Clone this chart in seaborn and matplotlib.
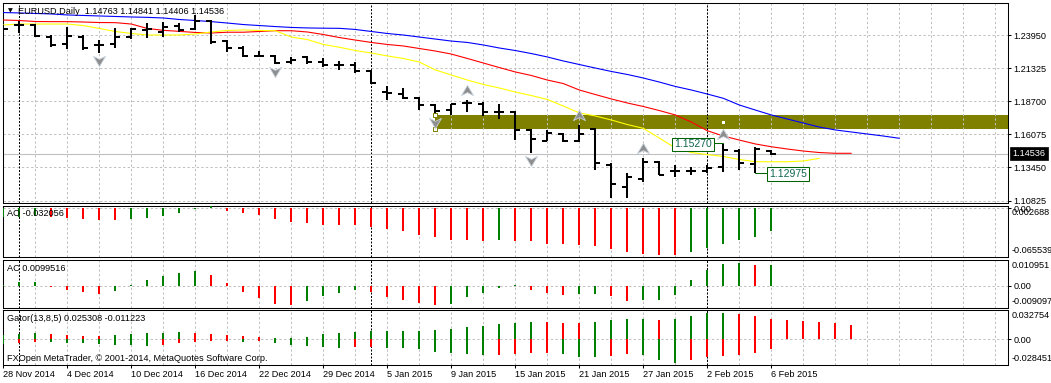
import matplotlib
matplotlib.use("Agg")
import matplotlib.pyplot as plt
import matplotlib.transforms as mtrans
from matplotlib.path import Path
from matplotlib.patches import Rectangle
import numpy as np
import pandas as pd
import seaborn as sns

# ---------------- data ----------------
symbol_title = "EURUSD,Daily"
date_labels = ['28 Nov 2014', '4 Dec 2014', '10 Dec 2014', '16 Dec 2014', '22 Dec 2014',
               '29 Dec 2014', '5 Jan 2015', '9 Jan 2015', '15 Jan 2015', '21 Jan 2015',
               '27 Jan 2015', '2 Feb 2015', '6 Feb 2015']
date_label_bars = [0, 4, 8, 12, 16, 20, 24, 28, 32, 36, 40, 44, 48]
month_start_bars = [1, 23, 44]

opens = [1.2458, 1.2474, 1.2474, 1.2379, 1.2324, 1.2379, 1.2316, 1.2324, 1.2379, 1.2435,
         1.2419, 1.2466, 1.2443, 1.2506, 1.2348, 1.2292, 1.2232, 1.2229, 1.2181, 1.2221,
         1.2181, 1.2157, 1.2161, 1.2106, 1.1943, 1.1927, 1.1895, 1.1840, 1.1800, 1.1852,
         1.1844, 1.1784, 1.1784, 1.1642, 1.1558, 1.1610, 1.1554, 1.1650, 1.1364, 1.1192,
         1.1251, 1.1390, 1.1317, 1.1317, 1.1317, 1.1346, 1.1478, 1.1372, 1.14763]
highs = [1.2474, 1.2506, 1.2482, 1.2395, 1.2458, 1.2395, 1.2355, 1.2451, 1.2451, 1.2490,
         1.2498, 1.2490, 1.2554, 1.2514, 1.2355, 1.2308, 1.2272, 1.2236, 1.2221, 1.2229,
         1.2213, 1.2185, 1.2177, 1.2118, 1.1987, 1.1975, 1.1903, 1.1848, 1.1848, 1.1876,
         1.1860, 1.1848, 1.1796, 1.1650, 1.1642, 1.1618, 1.1681, 1.1658, 1.1380, 1.1298,
         1.1422, 1.1396, 1.1364, 1.1351, 1.1364, 1.15270, 1.1489, 1.1505, 1.14841]
lows = [1.2419, 1.2411, 1.2379, 1.2300, 1.2284, 1.2276, 1.2252, 1.2292, 1.2363, 1.2371,
        1.2379, 1.2419, 1.2435, 1.2324, 1.2260, 1.2221, 1.2217, 1.2165, 1.2169, 1.2169,
        1.2141, 1.2121, 1.2090, 1.2003, 1.1880, 1.1888, 1.1800, 1.1761, 1.1761, 1.1788,
        1.1749, 1.1725, 1.1562, 1.1463, 1.1551, 1.1543, 1.1543, 1.1325, 1.1106, 1.1100,
        1.1232, 1.1285, 1.1267, 1.1285, 1.1298, 1.1311, 1.1325, 1.12975, 1.14406]
closes = [1.2443, 1.2474, 1.2387, 1.2316, 1.2387, 1.2292, 1.2316, 1.2379, 1.2443, 1.2443,
          1.2458, 1.2435, 1.2506, 1.2340, 1.2292, 1.2229, 1.2225, 1.2173, 1.2197, 1.2181,
          1.2157, 1.2157, 1.2106, 1.2014, 1.1935, 1.1899, 1.1840, 1.1796, 1.1844, 1.1852,
          1.1784, 1.1784, 1.1638, 1.1570, 1.1614, 1.1554, 1.1610, 1.1380, 1.1214, 1.1267,
          1.1390, 1.1285, 1.1317, 1.1317, 1.1343, 1.1483, 1.1378, 1.1489, 1.14536]

# Alligator lines (shifted into the future)
jaw_blue = [1.2573, 1.2570, 1.2566, 1.2562, 1.2554, 1.2550, 1.2546, 1.2542, 1.2538, 1.2535,
            1.2530, 1.2518, 1.2510, 1.2501, 1.2490, 1.2478, 1.2470, 1.2462, 1.2455, 1.2451,
            1.2449, 1.2448, 1.2439, 1.2423, 1.2407, 1.2395, 1.2379, 1.2363, 1.2347, 1.2336,
            1.2316, 1.2292, 1.2272, 1.2248, 1.2221, 1.2189, 1.2161, 1.2133, 1.2106, 1.2082,
            1.2054, 1.2022, 1.1987, 1.1959, 1.1927, 1.1893, 1.1840, 1.1800, 1.1761, 1.1729,
            1.1697, 1.1665, 1.1642, 1.1626, 1.1610, 1.1594, 1.1576]
teeth_red = [1.2514, 1.2510, 1.2502, 1.2501, 1.2501, 1.2498, 1.2494, 1.2493, 1.2482, 1.2447,
             1.2432, 1.2424, 1.2415, 1.2411, 1.2417, 1.2417, 1.2423, 1.2429, 1.2429, 1.2419,
             1.2399, 1.2375, 1.2355, 1.2336, 1.2320, 1.2308, 1.2288, 1.2268, 1.2244, 1.2209,
             1.2173, 1.2137, 1.2102, 1.2074, 1.2038, 1.2010, 1.1959, 1.1923, 1.1888, 1.1856,
             1.1828, 1.1796, 1.1761, 1.1705, 1.1636, 1.1594, 1.1562, 1.1531, 1.1509, 1.1491,
             1.1475, 1.1463, 1.1457, 1.1457]
lips_yellow = [1.2474, 1.2482, 1.2482, 1.2482, 1.2482, 1.2470, 1.2447, 1.2423, 1.2407, 1.2395,
               1.2395, 1.2395, 1.2403, 1.2419, 1.2431, 1.2435, 1.2431, 1.2429, 1.2379, 1.2359,
               1.2320, 1.2298, 1.2272, 1.2252, 1.2229, 1.2209, 1.2181, 1.2118, 1.2078, 1.2038,
               1.2003, 1.1975, 1.1943, 1.1915, 1.1884, 1.1832, 1.1777, 1.1753, 1.1721, 1.1685,
               1.1655, 1.1578, 1.1499, 1.1463, 1.1447, 1.1432, 1.1408, 1.1390, 1.1390, 1.1390,
               1.1396, 1.1417]

up_fractal_bars = [29, 36, 40, 45]
down_fractal_bars = [6, 17, 27, 33]

zone_start_bar = 27
zone_top = 1.1761
zone_bottom = 1.1646
zone_handle_bar = 45

high_label_bar, high_label_price = 45, 1.15270
low_label_bar, low_label_price = 47, 1.12975

price_ticks = [1.23950, 1.21325, 1.18700, 1.16075, 1.13450, 1.10825]

ao = [-0.0124, -0.0115, -0.0105, -0.0118, -0.0135, -0.0146, -0.0163, -0.0165, -0.0149, -0.0131,
      -0.0103, -0.0060, -0.0010, 0.002688, -0.0035, -0.0069, -0.0093, -0.0149, -0.0187, -0.0205,
      -0.0224, -0.0226, -0.0233, -0.0257, -0.0290, -0.0318, -0.0364, -0.0402, -0.0444, -0.0446,
      -0.0448, -0.0443, -0.0450, -0.0458, -0.0491, -0.0500, -0.0515, -0.0529, -0.0561, -0.0609,
      -0.0631, -0.0652, -0.065539, -0.0609, -0.0547, -0.0500, -0.0444, -0.0402, -0.032056]

ac = [0.0003, 0.0016, 0.0019, -0.0005, -0.0021, -0.0029, -0.0040, -0.0025, 0.0006, 0.0027,
      0.0046, 0.0063, 0.0070, 0.0051, 0.0014, -0.0029, -0.0057, -0.0086, -0.009097, -0.0073,
      -0.0048, -0.0033, -0.0021, -0.0029, -0.0052, -0.0068, -0.0081, -0.0090, -0.0084, -0.0052,
      -0.0033, -0.0010, 0.0005, -0.0021, -0.0033, -0.0044, -0.0040, -0.0039, -0.0049, -0.0073,
      -0.0068, -0.0067, -0.0044, 0.0027, 0.0075, 0.0103, 0.010951, 0.0098, 0.0099516]

gator_up = [0.0049, 0.0070, 0.0082, 0.0062, 0.0049, 0.0048, 0.0047, 0.0050, 0.0062, 0.0074,
            0.0078, 0.0090, 0.0078, 0.0066, 0.0049, 0.0037, 0.0029, 0.0016, 0.0020, 0.0029,
            0.0066, 0.0078, 0.0090, 0.0098, 0.0102, 0.0103, 0.0104, 0.0111, 0.0123, 0.0148,
            0.0160, 0.0189, 0.0201, 0.0213, 0.0212, 0.0201, 0.0200, 0.0213, 0.0234, 0.0246,
            0.0247, 0.0234, 0.0246, 0.0283, 0.0324, 0.032754, 0.0308, 0.0283, 0.025308, 0.0243,
            0.0228, 0.0209, 0.0197, 0.0172]
gator_up_dir = "ggg" + "rrrr" + "ggggg" + "rrrrr" + "g" * 17 + "rrr" + "gggg" + "r" + "gggg" + "r" * 8
gator_dn = [-0.0052, -0.0040, -0.0032, -0.0034, -0.0040, -0.0044, -0.0060, -0.0068, -0.0072, -0.0080,
            -0.0072, -0.0044, -0.0032, -0.0024, -0.0020, -0.0032, -0.0020, -0.0044, -0.0072, -0.0084,
            -0.0092, -0.0104, -0.0092, -0.0091, -0.0104, -0.0105, -0.0112, -0.0152, -0.0164, -0.0184,
            -0.0192, -0.0188, -0.0176, -0.0168, -0.0166, -0.0180, -0.0212, -0.0214, -0.0200, -0.0176,
            -0.0192, -0.0248, -0.028451, -0.0248, -0.0212, -0.0200, -0.0192, -0.0164, -0.011223]
gator_dn_dir = "g" + "rr" + "g" * 7 + "r" * 5 + "g" + "r" + "g" * 5 + "rr" + "g" * 7 + "r" * 4 + "ggg" + "rr" + "ggg" + "r" * 6

# ---------------- style ----------------
sns.set_theme(style="white")
plt.rcParams['font.family'] = ['Liberation Sans', 'DejaVu Sans']
plt.rcParams.update({'text.color': 'black', 'axes.edgecolor': 'black',
                     'xtick.color': 'black', 'ytick.color': 'black',
                     'axes.labelcolor': 'black'})

FS = 6.6
GREEN = '#008000'
RED = '#ff0000'
GRID = '#c0c0c0'
GRID_DASH = (0, (2.3, 2.3))
SEP_DASH = (0, (2.0, 1.5))
W, H = 1051, 383
fig = plt.figure(figsize=(W / 100, H / 100), dpi=100)
fig.patch.set_facecolor('white')
XL, XR = 3, 1008
XLIM = (-0.02, (XR - XL) / 16 - 0.02)


def add_panel(top, bottom):
    ax = fig.add_axes([XL / W, 1 - bottom / H, (XR - XL) / W, (bottom - top) / H])
    ax.set_facecolor('white')
    for s in ax.spines.values():
        s.set_color('black')
        s.set_linewidth(0.75)
    return ax


def grid_and_separators(ax):
    for xg in range(2, 63, 2):
        ax.axvline(xg, color=GRID, lw=0.72, ls=GRID_DASH, zorder=1)
    for m in month_start_bars:
        ax.axvline(m, color='black', lw=0.72, ls=SEP_DASH, zorder=1.2)


ax_main = add_panel(3, 202.5)
ax_ao = add_panel(206, 256.7)
ax_ac = add_panel(259.5, 307.7)
ax_gt = add_panel(309.5, 365)

# ---------------- main price panel ----------------
ax = ax_main
grid_and_separators(ax)
for p in price_ticks:
    ax.axhline(p, color=GRID, lw=0.72, ls=GRID_DASH, zorder=1)
ax.axhline(closes[-1], color=GRID, lw=0.8, zorder=1.5)

ax.add_patch(Rectangle((zone_start_bar, zone_bottom), 80, zone_top - zone_bottom,
                       facecolor='#808000', edgecolor='none', zorder=0.5))

sns.lineplot(x=np.arange(len(jaw_blue)), y=jaw_blue, ax=ax, color='#0000ff', lw=0.8, zorder=3)
sns.lineplot(x=np.arange(len(teeth_red)), y=teeth_red, ax=ax, color='#ff0000', lw=0.8, zorder=3)
sns.lineplot(x=np.arange(len(lips_yellow)), y=lips_yellow, ax=ax, color='#ffff00', lw=0.8, zorder=3)

xb = np.arange(len(opens))
ax.vlines(xb, lows, highs, color='black', lw=1.45, zorder=4, capstyle='butt')
ax.hlines(opens, xb - 0.32, xb, color='black', lw=1.45, zorder=4, capstyle='butt')
ax.hlines(closes, xb, xb + 0.32, color='black', lw=1.45, zorder=4, capstyle='butt')

# zone selection handles
ax.scatter([zone_start_bar, zone_start_bar], [zone_top, zone_bottom], marker='s', s=9,
           facecolor='white', edgecolor='#808000', linewidths=0.7, zorder=5)
ax.scatter([zone_handle_bar], [(zone_top + zone_bottom) / 2], marker='s', s=5,
           facecolor='white', edgecolor='none', zorder=5)

# fractal arrows
up_path = Path([(0, 0.85), (1, -0.85), (0, -0.35), (-1, -0.85), (0, 0.85)],
               [Path.MOVETO, Path.LINETO, Path.LINETO, Path.LINETO, Path.CLOSEPOLY])
dn_path = Path([(0, -0.85), (1, 0.85), (0, 0.35), (-1, 0.85), (0, -0.85)],
               [Path.MOVETO, Path.LINETO, Path.LINETO, Path.LINETO, Path.CLOSEPOLY])
ax.scatter(up_fractal_bars, [highs[i] + 0.0080 for i in up_fractal_bars], marker=up_path,
           s=75, facecolor='#8e8e8e', edgecolor='#c9d3de', linewidths=0.6, zorder=5)
ax.scatter(down_fractal_bars, [lows[i] - 0.0064 for i in down_fractal_bars], marker=dn_path,
           s=75, facecolor='#8e8e8e', edgecolor='#c9d3de', linewidths=0.6, zorder=5)

# high / low price labels
LBL_EDGE = '#006400'
LBL_TXT = '#0e6650'
ax.plot([high_label_bar - 0.62, high_label_bar], [high_label_price + 0.0008] * 2,
        color=LBL_EDGE, lw=0.75, zorder=5)
ax.text(high_label_bar - 0.72, high_label_price, f"{high_label_price:.5f}", ha='right', va='center',
        fontsize=7.5, color=LBL_TXT, zorder=6,
        bbox=dict(boxstyle='square,pad=0.18', fc='white', ec=LBL_EDGE, lw=0.75))
ax.plot([low_label_bar, low_label_bar + 0.75], [low_label_price] * 2,
        color=LBL_EDGE, lw=0.75, zorder=5)
ax.text(low_label_bar + 0.86, low_label_price - 0.0003, f"{low_label_price:.5f}", ha='left', va='center',
        fontsize=7.5, color=LBL_TXT, zorder=6,
        bbox=dict(boxstyle='square,pad=0.18', fc='white', ec=LBL_EDGE, lw=0.75))

ax.set_xlim(*XLIM)
ax.set_ylim(1.10668, 1.26488)
ax.set_xticks([])
ax.yaxis.tick_right()
ax.set_yticks(price_ticks)
ax.set_yticklabels([f"{p:.5f}" for p in price_ticks])
ax.tick_params(axis='y', right=True, left=False, length=2.2, width=0.75, pad=1.8, labelsize=FS)
ax.set_xlabel('')
ax.set_ylabel('')

# current price box on the axis
trans_main = mtrans.blended_transform_factory(fig.transFigure, ax.transData)
fig.text(1012.5 / W, closes[-1], f"{closes[-1]:.5f}", transform=trans_main, ha='left', va='center',
         fontsize=FS, color='white', zorder=10,
         bbox=dict(boxstyle='square,pad=0.22', fc='black', ec='black', lw=0.5))

# title
fig.text(10.5 / W, 1 - 10.8 / H, "\u25BC", ha='center', va='center', fontsize=4.5,
         family=['DejaVu Sans'], color='black')
fig.text(18 / W, 1 - 11 / H,
         f"{symbol_title}  {opens[-1]:.5f} {highs[-1]:.5f} {lows[-1]:.5f} {closes[-1]:.5f}",
         ha='left', va='center', fontsize=FS, color='black', zorder=10)


# ---------------- indicator panels ----------------
def indicator_axes(ax, ylim):
    grid_and_separators(ax)
    ax.axhline(0, color=GRID, lw=0.72, ls=GRID_DASH, zorder=1)
    ax.set_xlim(*XLIM)
    ax.set_ylim(*ylim)
    ax.yaxis.tick_right()
    ax.set_yticks([0])
    ax.set_yticklabels(['0.00'])
    ax.tick_params(axis='y', right=True, left=False, length=2.2, width=0.75, pad=1.8, labelsize=FS)
    ax.set_xlabel('')
    ax.set_ylabel('')


def side_labels(ax, top_txt, bottom_txt):
    ax.annotate(top_txt, xy=(1, 1), xycoords='axes fraction', xytext=(4, -6.5),
                textcoords='offset pixels', ha='left', va='center', fontsize=FS,
                annotation_clip=False)
    ax.annotate(bottom_txt, xy=(1, 0), xycoords='axes fraction', xytext=(4, 6.5),
                textcoords='offset pixels', ha='left', va='center', fontsize=FS,
                annotation_clip=False)


def dir_colors(vals):
    cols = [GREEN]
    for a, b in zip(vals[:-1], vals[1:]):
        cols.append(GREEN if b > a else RED)
    return cols


# AO
indicator_axes(ax_ao, (-0.06721, 0.00338))
ax_ao.vlines(np.arange(len(ao)), 0, ao, colors=dir_colors(ao), lw=1.45, zorder=4, capstyle='butt')
ax_ao.set_xticks([])
side_labels(ax_ao, f"{max(ao):.6f}", f"{min(ao):.6f}")
ax_ao.text(7.3 / W, 1 - 213.8 / H, f"AO {ao[-1]:.6f}", transform=fig.transFigure,
           ha='left', va='center', fontsize=FS, zorder=10)

# AC
indicator_axes(ax_ac, (-0.01038, 0.01247))
ax_ac.vlines(np.arange(len(ac)), 0, ac, colors=dir_colors(ac), lw=1.45, zorder=4, capstyle='butt')
ax_ac.set_xticks([])
side_labels(ax_ac, f"{max(ac):.6f}", f"{min(ac):.6f}")
ax_ac.text(7.3 / W, 1 - 268.3 / H, f"AC {ac[-1]:.7f}", transform=fig.transFigure,
           ha='left', va='center', fontsize=FS, zorder=10)

# Gator
indicator_axes(ax_gt, (-0.03125, 0.03667))
cmap = {'g': GREEN, 'r': RED}
ax_gt.vlines(np.arange(len(gator_up)), 0, gator_up, colors=[cmap[c] for c in gator_up_dir],
             lw=1.45, zorder=4, capstyle='butt')
ax_gt.vlines(np.arange(len(gator_dn)), 0, gator_dn, colors=[cmap[c] for c in gator_dn_dir],
             lw=1.45, zorder=4, capstyle='butt')
side_labels(ax_gt, f"{max(gator_up):.6f}", f"{min(gator_dn):.6f}")
ax_gt.text(7.3 / W, 1 - 318.3 / H, f"Gator(13,8,5) {gator_up[48]:.6f} {gator_dn[48]:.6f}",
           transform=fig.transFigure, ha='left', va='center', fontsize=FS, zorder=10)
ax_gt.text(7.3 / W, 1 - 358.3 / H, "FXOpen MetaTrader, \u00a9 2001-2014, MetaQuotes Software Corp.",
           transform=fig.transFigure, ha='left', va='center', fontsize=FS, zorder=10)

ax_gt.set_xticks(date_label_bars)
ax_gt.set_xticklabels(date_labels, fontsize=FS)
for lbl in ax_gt.get_xticklabels():
    lbl.set_ha('left')
ax_gt.tick_params(axis='x', bottom=True, length=2.2, width=0.75, pad=1.6, direction='out')

fig.savefig('out.png', dpi=100, facecolor='white')
